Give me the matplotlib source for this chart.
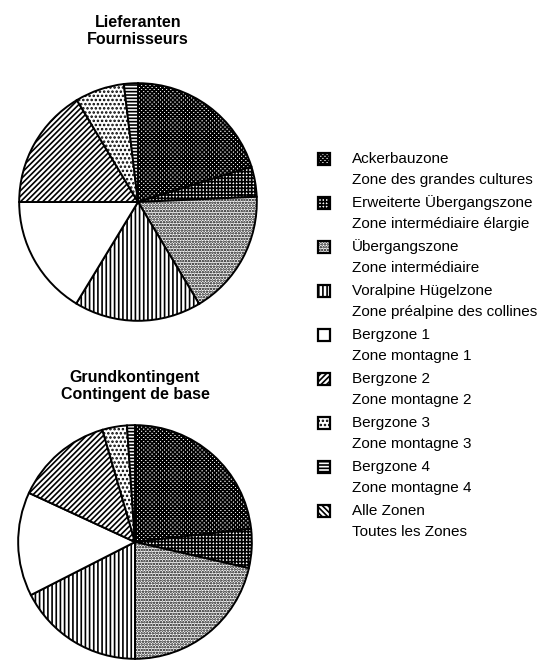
import matplotlib
matplotlib.use("Agg")
import matplotlib.pyplot as plt
from matplotlib.patches import Rectangle

plt.rcParams['font.family'] = ['Liberation Sans', 'DejaVu Sans']
plt.rcParams['hatch.linewidth'] = 1.2

# legend entries (German / French)
zones_de = ["Ackerbauzone", "Erweiterte Übergangszone", "Übergangszone",
            "Voralpine Hügelzone", "Bergzone 1", "Bergzone 2", "Bergzone 3",
            "Bergzone 4", "Alle Zonen"]
zones_fr = ["Zone des grandes cultures", "Zone intermédiaire élargie",
            "Zone intermédiaire", "Zone préalpine des collines",
            "Zone montagne 1", "Zone montagne 2", "Zone montagne 3",
            "Zone montagne 4", "Toutes les Zones"]
hatches = ['xxxxxxxx', '+++++', '......', '||||', '', '//////', '....',
           '-----', '\\\\\\\\\\\\']

# shares in percent
lieferanten = [20.2, 4.1, 17.1, 17.3, 16.3, 16.4, 6.7, 1.9]
grundkontingent = [23.2, 5.4, 21.4, 17.5, 14.4, 13.6, 3.4, 1.1]

W, H = 550, 661
fig = plt.figure(figsize=(W / 100, H / 100), dpi=100)


def pie_axes(cx, cy, r):
    return fig.add_axes([(cx - r) / W, (H - cy - r) / H, 2 * r / W, 2 * r / H])


def draw_pie(ax, values):
    ax.pie(values, colors=['white'] * len(values), hatch=hatches[:len(values)],
           startangle=90, counterclock=False,
           wedgeprops=dict(edgecolor='black', linewidth=1.4))
    ax.set_xlim(-1.01, 1.01)
    ax.set_ylim(-1.01, 1.01)
    ax.set_aspect('equal')


draw_pie(pie_axes(138, 202, 120), lieferanten)
draw_pie(pie_axes(135, 542, 118), grundkontingent)

fig.text(138 / W, 1 - 31 / H, "Lieferanten\nFournisseurs", ha='center',
         va='center', fontsize=11.5, fontweight='bold', linespacing=1.2)
fig.text(135 / W, 1 - 386 / H, "Grundkontingent\nContingent de base",
         ha='center', va='center', fontsize=11.5, fontweight='bold',
         linespacing=1.2)

# legend drawn in pixel coordinates on an overlay axes
lg = fig.add_axes([0, 0, 1, 1], zorder=-1)
lg.set_xlim(0, W)
lg.set_ylim(H, 0)
lg.axis('off')
for i, (de, fr, h) in enumerate(zip(zones_de, zones_fr, hatches)):
    y = 159 + i * 44
    lg.add_patch(Rectangle((318, y - 6), 12, 12, facecolor='white',
                           edgecolor='black', linewidth=1.6, hatch=h))
    lg.text(352, y, de, va='center', ha='left', fontsize=11)
    lg.text(352, y + 21, fr, va='center', ha='left', fontsize=11)

fig.savefig("out.png", dpi=100)
